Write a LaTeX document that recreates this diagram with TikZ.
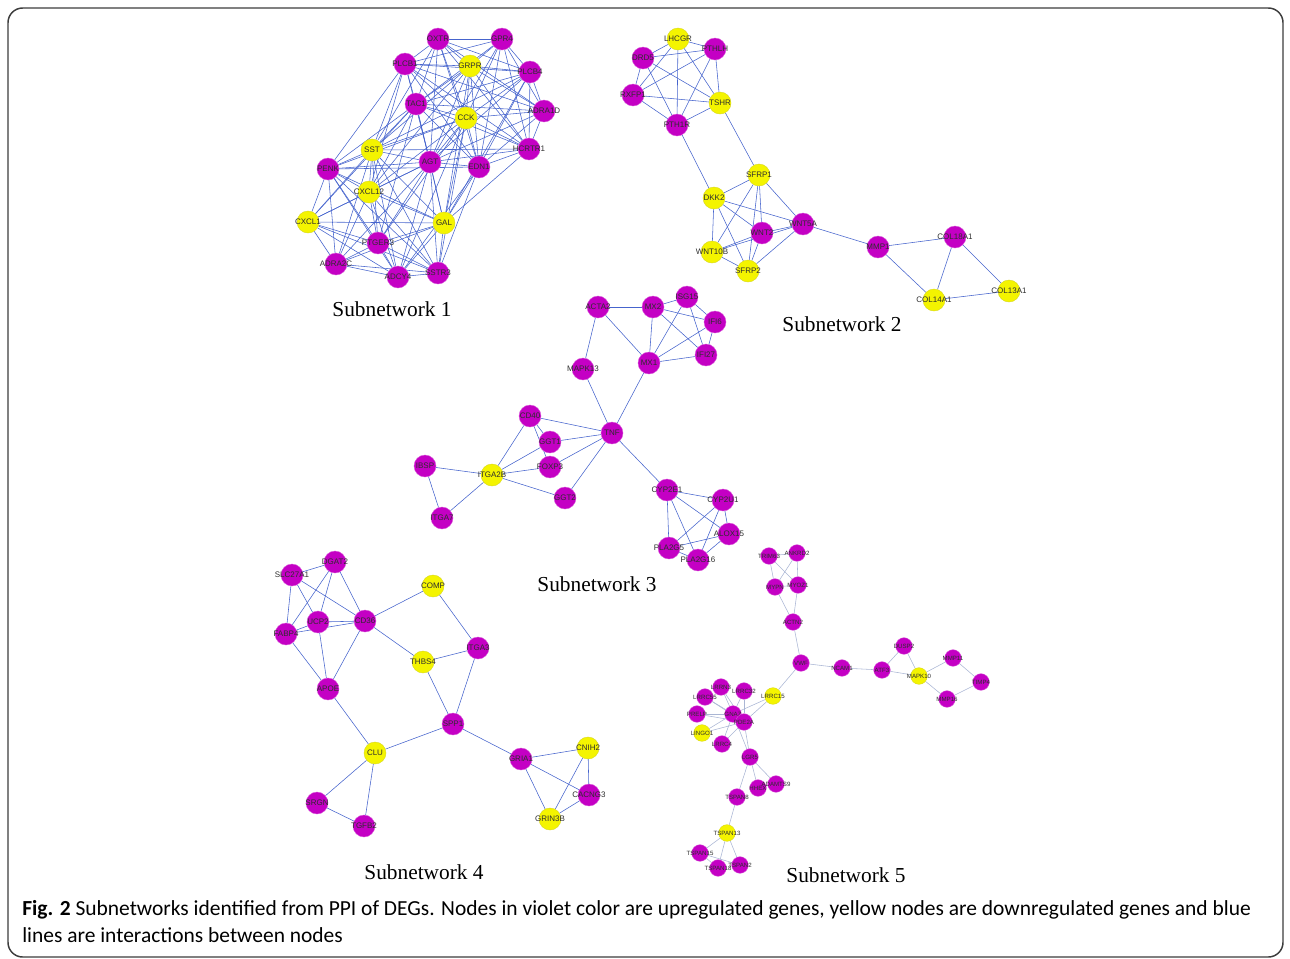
\documentclass[tikz,border=0pt]{standalone}
\usepackage{fontspec}
\setmainfont{Liberation Serif}
\setsansfont{Liberation Sans}
\newfontfamily\capfont{Carlito}
\usetikzlibrary{backgrounds}
\definecolor{vio}{RGB}{196,0,196}
\definecolor{yel}{RGB}{244,244,0}
\definecolor{edgeblue}{RGB}{70,100,205}
\definecolor{edgegrey}{RGB}{170,182,212}
\definecolor{labgrey}{RGB}{45,45,45}
\definecolor{framegrey}{RGB}{60,60,60}
\tikzset{
  gbase/.style={circle, inner sep=0pt, minimum size=16.5pt, line width=0.3pt},
  up/.style={gbase, fill=vio, draw=vio!65!white},
  dn/.style={gbase, fill=yel, draw=yel!75!gray},
  sup/.style={up, minimum size=12.5pt},
  sdn/.style={dn, minimum size=12.5pt},
  nl/.style={font=\sffamily\fontsize{6}{6}\selectfont, text=labgrey},
  nls/.style={font=\sffamily\fontsize{4.6}{4.6}\selectfont, text=labgrey},
  ed/.style={draw=edgeblue, line width=0.42pt},
  eds/.style={draw=edgegrey, line width=0.42pt},
  subttl/.style={font=\fontsize{16}{16}\selectfont, text=black},
  captext/.style={font=\capfont\fontsize{16.1}{16.1}\selectfont, text=black, anchor=west, inner sep=0pt},
}
\newcommand\gnode[3]{\node[#1, label={[nl]center:#2}] (#2) at (#3) {};}
\newcommand\snode[3]{\node[#1, label={[nls]center:#2}] (#2) at (#3) {};}
\begin{document}
\begin{tikzpicture}[x=0.75pt, y=-0.75pt]
\useasboundingbox (0,0) rectangle (1290,958);
\draw[framegrey, line width=1.1pt, rounded corners=11pt] (8,8) rectangle (1283,957);

% ---------- Subnetwork 1 ----------
\gnode{up}{OXTR}{438,39}
\gnode{up}{GPR4}{502,39}
\gnode{up}{PLCB1}{405,64}
\gnode{dn}{GRPR}{470,66}
\gnode{up}{PLCB4}{530,72}
\gnode{up}{TAC1}{416,104}
\gnode{dn}{CCK}{466,118}
\gnode{up}{ADRA1D}{544,111}
\gnode{up}{HCRTR1}{529,149}
\gnode{dn}{SST}{372,150}
\gnode{up}{AGT}{430,162}
\gnode{up}{EDN1}{479,167}
\gnode{up}{PENK}{328,169}
\gnode{dn}{CXCL12}{369,192}
\gnode{dn}{CXCL1}{308,222}
\gnode{dn}{GAL}{444,223}
\gnode{up}{PTGER3}{378,243}
\gnode{up}{ADRA2C}{336,264}
\gnode{up}{ADCY4}{398,277}
\gnode{up}{SSTR3}{438,273}
\node[subttl] (t1) at (392,309) {Subnetwork 1};

% ---------- Subnetwork 2 ----------
\gnode{dn}{LHCGR}{678,39}
\gnode{up}{PTHLH}{715,49}
\gnode{up}{DRD5}{643,58}
\gnode{up}{RXFP1}{633,95}
\gnode{dn}{TSHR}{720,103}
\gnode{up}{PTH1R}{677,125}
\gnode{dn}{SFRP1}{759,175}
\gnode{dn}{DKK2}{714,198}
\gnode{up}{WNT5A}{803,224}
\gnode{up}{WNT2}{762,233}
\gnode{dn}{WNT10B}{712,252}
\gnode{dn}{SFRP2}{748,271}
\gnode{up}{MMP1}{878,247}
\gnode{up}{COL18A1}{955,237}
\gnode{dn}{COL14A1}{934,300}
\gnode{dn}{COL13A1}{1009,291}
\node[subttl] (t2) at (842,324) {Subnetwork 2};

% ---------- Subnetwork 3 ----------
\gnode{up}{ACTA2}{598,307}
\gnode{up}{MX2}{653,307}
\gnode{up}{ISG15}{687,297}
\gnode{up}{IFI6}{715,322}
\gnode{up}{IFI27}{706,355}
\gnode{up}{MX1}{649,363}
\gnode{up}{MAPK13}{583,369}
\gnode{up}{CD40}{530,416}
\gnode{up}{TNF}{612,433}
\gnode{up}{GGT1}{550,442}
\gnode{up}{IBSP}{425,466}
\gnode{up}{FOXP3}{550,467}
\gnode{dn}{ITGA2B}{492,475}
\gnode{up}{GGT2}{565,498}
\gnode{up}{ITGA7}{442,518}
\gnode{up}{CYP2E1}{667,490}
\gnode{up}{CYP2U1}{723,500}
\gnode{up}{ALOX15}{729,534}
\gnode{up}{PLA2G5}{669,548}
\gnode{up}{PLA2G16}{698,560}
\node[subttl] (t3) at (597,584) {Subnetwork 3};

% ---------- Subnetwork 4 ----------
\gnode{up}{DGAT2}{335,562}
\gnode{up}{SLC27A1}{292,575}
\gnode{dn}{COMP}{433,586}
\gnode{up}{UCP2}{318,622}
\gnode{up}{CD36}{365,621}
\gnode{up}{FABP4}{286,634}
\gnode{up}{ITGA3}{478,648}
\gnode{dn}{THBS4}{423,662}
\gnode{up}{APOE}{328,689}
\gnode{up}{SPP1}{453,724}
\gnode{dn}{CLU}{375,753}
\gnode{up}{GRIA1}{521,759}
\gnode{dn}{CNIH2}{588,748}
\gnode{up}{CACNG3}{589,795}
\gnode{up}{SRGN}{317,803}
\gnode{dn}{GRIN3B}{550,819}
\gnode{up}{TGFB2}{364,826}
\node[subttl] (t4) at (424,872) {Subnetwork 4};

% ---------- Subnetwork 5 ----------
\snode{sup}{TRIM63}{769,556}
\snode{sup}{ANKRD2}{797,553}
\snode{sup}{MYPN}{775,587}
\snode{sup}{MYOZ1}{798,585}
\snode{sup}{ACTN2}{793,622}
\snode{sup}{VWF}{801,663}
\snode{sup}{NCAM1}{842,668}
\snode{sup}{ATF3}{882,670}
\snode{sup}{DUSP2}{904,646}
\snode{sdn}{MAPK10}{919,676}
\snode{sup}{MMP11}{953,658}
\snode{sup}{TIMP4}{981,682}
\snode{sup}{MMP16}{947,699}
\snode{sup}{LRRN3}{721,687}
\snode{sup}{LRRC32}{744,691}
\snode{sup}{LRRC55}{705,697}
\snode{sdn}{LRRC15}{773,696}
\snode{sup}{PRELP}{697,714}
\snode{sup}{GNAZ}{733,714}
\snode{sup}{PDE2A}{744,722}
\snode{sdn}{LINGO1}{702,733}
\snode{sup}{LRRC4}{722,744}
\snode{sup}{LGR5}{750,757}
\snode{sup}{HHEX}{758,788}
\snode{sup}{ADAMTS9}{776,784}
\snode{sup}{TSPAN8}{737,797}
\snode{sdn}{TSPAN13}{727,833}
\snode{sup}{TSPAN15}{700,853}
\snode{sup}{TSPAN2}{740,865}
\snode{sup}{TSPAN18}{718,868}
\node[subttl] (t5) at (846,875) {Subnetwork 5};

% ---------- Caption ----------
\node[captext] (cap1) at (22,910) {\textbf{Fig. 2} Subnetworks identified from PPI of DEGs. Nodes in violet color are upregulated genes, yellow nodes are downregulated genes and blue};
\node[captext] (cap2) at (22,935) {lines are interactions between nodes};

% ---------- Edges ----------
\begin{pgfonlayer}{background}
% subnetwork 1: two dense clusters
\foreach \a [count=\i] in {OXTR,GPR4,PLCB1,GRPR,PLCB4,TAC1,CCK,ADRA1D,HCRTR1,AGT,EDN1}{
  \foreach \b [count=\j] in {OXTR,GPR4,PLCB1,GRPR,PLCB4,TAC1,CCK,ADRA1D,HCRTR1,AGT,EDN1}{
    \ifnum\j>\i \draw[ed] (\a) -- (\b); \fi
  }
}
\foreach \a [count=\i] in {SST,PENK,CXCL12,CXCL1,GAL,PTGER3,ADRA2C,ADCY4,SSTR3,AGT,EDN1}{
  \foreach \b [count=\j] in {SST,PENK,CXCL12,CXCL1,GAL,PTGER3,ADRA2C,ADCY4,SSTR3,AGT}{
    \ifnum\j>\i \draw[ed] (\a) -- (\b); \fi
  }
}
\foreach \a/\b in {SST/OXTR,SST/PLCB1,SST/GRPR,SST/TAC1,SST/CCK,SST/PLCB4,SST/HCRTR1,
  CXCL12/GRPR,CXCL12/CCK,CXCL12/TAC1,CXCL12/PLCB1,GAL/CCK,GAL/HCRTR1,GAL/TAC1,GAL/GRPR,GAL/PLCB4,
  PENK/TAC1,PENK/CCK,PENK/PLCB1,PENK/EDN1,CXCL1/TAC1,PTGER3/TAC1,PTGER3/CCK,SSTR3/CCK,ADCY4/CCK,
  GAL/EDN1,SSTR3/EDN1,ADCY4/EDN1}
  \draw[ed] (\a) -- (\b);
% subnetwork 2
\foreach \a [count=\i] in {LHCGR,PTHLH,DRD5,RXFP1,TSHR,PTH1R}{
  \foreach \b [count=\j] in {LHCGR,PTHLH,DRD5,RXFP1,TSHR,PTH1R}{
    \ifnum\j>\i \draw[ed] (\a) -- (\b); \fi
  }
}
\foreach \a/\b in {TSHR/SFRP1,PTH1R/DKK2,
  SFRP1/DKK2,SFRP1/WNT5A,SFRP1/WNT2,SFRP1/WNT10B,SFRP1/SFRP2,
  DKK2/WNT5A,DKK2/WNT2,DKK2/WNT10B,DKK2/SFRP2,
  WNT5A/WNT10B,WNT2/WNT10B,WNT2/SFRP2,WNT5A/SFRP2,WNT10B/SFRP2,WNT2/WNT5A,
  WNT5A/MMP1,MMP1/COL18A1,MMP1/COL14A1,COL18A1/COL14A1,COL18A1/COL13A1,COL14A1/COL13A1}
  \draw[ed] (\a) -- (\b);
% subnetwork 3
\foreach \a/\b in {ACTA2/MX2,ACTA2/MX1,ACTA2/MAPK13,MX2/ISG15,MX2/IFI6,MX2/IFI27,MX2/MX1,
  ISG15/IFI6,ISG15/IFI27,ISG15/MX1,IFI6/IFI27,IFI6/MX1,IFI27/MX1,MX1/TNF,MAPK13/TNF,
  CD40/TNF,CD40/GGT1,CD40/FOXP3,CD40/ITGA2B,GGT1/TNF,GGT1/ITGA2B,FOXP3/TNF,FOXP3/ITGA2B,
  GGT2/TNF,GGT2/ITGA2B,IBSP/ITGA2B,IBSP/ITGA7,ITGA7/ITGA2B,TNF/CYP2E1,
  CYP2E1/CYP2U1,CYP2E1/ALOX15,CYP2E1/PLA2G5,CYP2E1/PLA2G16,CYP2U1/ALOX15,CYP2U1/PLA2G5,
  CYP2U1/PLA2G16,ALOX15/PLA2G5,ALOX15/PLA2G16,PLA2G5/PLA2G16}
  \draw[ed] (\a) -- (\b);
% subnetwork 4
\foreach \a/\b in {DGAT2/SLC27A1,DGAT2/UCP2,DGAT2/FABP4,DGAT2/CD36,SLC27A1/UCP2,SLC27A1/CD36,
  SLC27A1/FABP4,UCP2/CD36,UCP2/FABP4,UCP2/APOE,FABP4/CD36,FABP4/APOE,CD36/APOE,CD36/COMP,
  CD36/THBS4,COMP/ITGA3,THBS4/ITGA3,THBS4/SPP1,ITGA3/SPP1,APOE/CLU,CLU/SPP1,CLU/SRGN,CLU/TGFB2,
  SRGN/TGFB2,SPP1/GRIA1,GRIA1/CNIH2,GRIA1/CACNG3,GRIA1/GRIN3B,CNIH2/CACNG3,CNIH2/GRIN3B,CACNG3/GRIN3B}
  \draw[ed] (\a) -- (\b);
% subnetwork 5
\foreach \a/\b in {TRIM63/ANKRD2,TRIM63/MYPN,TRIM63/MYOZ1,ANKRD2/MYPN,ANKRD2/MYOZ1,MYPN/MYOZ1,
  MYPN/ACTN2,MYOZ1/ACTN2,ACTN2/VWF,VWF/NCAM1,NCAM1/ATF3,ATF3/DUSP2,ATF3/MAPK10,DUSP2/MAPK10,
  MAPK10/MMP11,MAPK10/MMP16,MMP11/TIMP4,MMP16/TIMP4,VWF/LRRC15,LRRC15/GNAZ,LRRC15/PDE2A,
  GNAZ/LRRN3,GNAZ/LRRC32,GNAZ/LRRC55,GNAZ/PRELP,GNAZ/LINGO1,GNAZ/LRRC4,GNAZ/LGR5,
  PDE2A/LRRN3,PDE2A/LRRC32,PDE2A/LRRC55,PDE2A/PRELP,PDE2A/LINGO1,PDE2A/LRRC4,PDE2A/LGR5,
  LGR5/HHEX,LGR5/ADAMTS9,LGR5/TSPAN8,HHEX/ADAMTS9,TSPAN8/TSPAN13,TSPAN13/TSPAN15,
  TSPAN13/TSPAN18,TSPAN13/TSPAN2,TSPAN15/TSPAN2,TSPAN15/TSPAN18}
  \draw[eds] (\a) -- (\b);
\end{pgfonlayer}
\end{tikzpicture}
\end{document}
